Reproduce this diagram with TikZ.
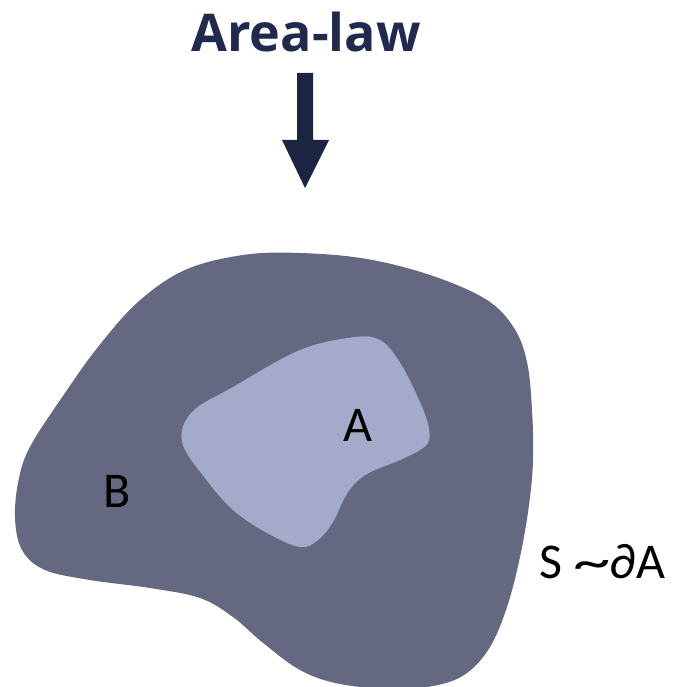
\documentclass[tikz,border=0pt]{standalone}
\usepackage{fontspec}
\usepackage{graphicx}
\setmainfont{Carlito}
\newfontfamily\titlefont{Open Sans}
\definecolor{navy}{HTML}{1F2A4E}
\definecolor{arrowc}{HTML}{1B2440}
\definecolor{outerc}{HTML}{646880}
\definecolor{innerc}{HTML}{A4AACA}
\begin{document}
\begin{tikzpicture}[x=1pt,y=-1pt,
  lbl/.style={inner sep=0pt,font=\fontsize{50}{50}\selectfont,text=black}]
\useasboundingbox (0,0) rectangle (674,687);
\node[inner sep=0pt,font=\titlefont\bfseries\fontsize{52}{52}\selectfont,text=navy] (title) at (306,32) {Area-law};
\fill[arrowc] (297,73) -- (313,73) -- (313,140) -- (329,140) -- (305,188) -- (282,140) -- (297,140) -- cycle;
\fill[outerc] plot[smooth cycle,tension=0.6] coordinates {
 (300,253) (367,259) (433,276) (487,300) (514,328) (527,362) (532,410) (533,460) (529,505) (520,557) (507,607) (490,647) (467,673) (438,685) (395,689) (340,684) (300,670) (262,642) (233,617) (200,598) (150,588) (90,580) (45,570) (22,550) (15,517) (19,478) (31,445) (65,393) (98,347) (138,302) (185,270) (243,255)};
\fill[innerc] plot[smooth cycle,tension=0.6] coordinates {
 (300,350) (355,337) (380,340) (397,358) (413,387) (427,420) (429,440) (420,450) (400,460) (367,474) (348,492) (333,522) (318,540) (300,547) (267,533) (233,510) (205,478) (182,442) (192,412) (233,387)};
\node[lbl] (A) at (358,425) {A};
\node[lbl] (B) at (117,491) {B};
\node[lbl,anchor=base west] (S) at (539,578) {S\hspace{0.22em}\raisebox{-0.02em}{\scalebox{1.5}[1.05]{\textasciitilde}}\hspace{-0.02em}∂A};
\end{tikzpicture}
\end{document}
